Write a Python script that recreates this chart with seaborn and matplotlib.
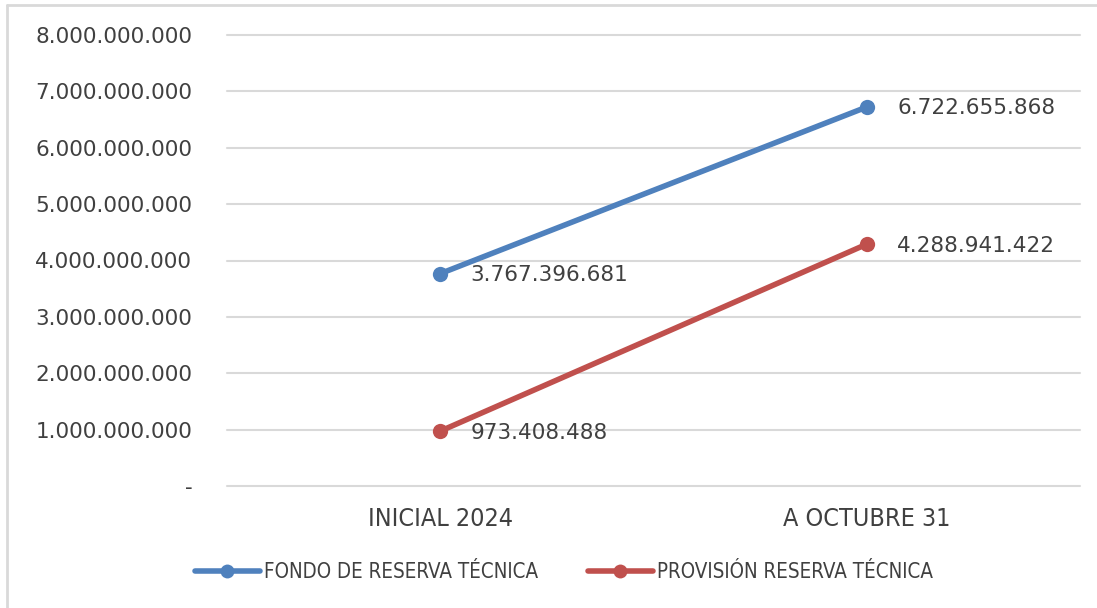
import matplotlib
matplotlib.use("Agg")
import matplotlib.pyplot as plt
import matplotlib.ticker as mticker
from matplotlib.lines import Line2D
from matplotlib import font_manager
import seaborn as sns
import pandas as pd

# -----------------------------------------
# Data
# -----------------------------------------
categorias = ["INICIAL 2024", "A OCTUBRE 31"]
fondo_reserva = [3767396681, 6722655868]
provision_reserva = [973408488, 4288941422]
series_nombres = ["FONDO DE RESERVA TÉCNICA", "PROVISIÓN RESERVA TÉCNICA"]
colores = ["#4F81BD", "#C0504D"]

data = pd.DataFrame({
    "Periodo": categorias * 2,
    "Valor": fondo_reserva + provision_reserva,
    "Serie": [series_nombres[0]] * 2 + [series_nombres[1]] * 2,
})

sns.set_style("white")
plt.rcParams["font.family"] = ["DejaVu Sans"]
texto = "#404040"

# narrow font for category / legend text, if available
nombres = {f.name for f in font_manager.fontManager.ttflist}
if "Liberation Sans Narrow" in nombres:
    narrow = {"family": "Liberation Sans Narrow"}
else:
    narrow = {"family": "DejaVu Sans", "stretch": "condensed"}


def miles(v, pos=None):
    if v == 0:
        return "-"
    return f"{v:,.0f}".replace(",", ".")


# -----------------------------------------
# Plot
# -----------------------------------------
fig = plt.figure(figsize=(10.97, 6.08), dpi=100)
ax = fig.add_axes([227 / 1097, 1 - 486 / 608, (1080 - 227) / 1097, (486 - 35) / 608])

sns.lineplot(data=data, x="Periodo", y="Valor", hue="Serie", palette=colores,
             marker="o", markersize=11, markeredgewidth=0, linewidth=4,
             sort=False, ax=ax, legend=False)

ax.set_xlim(-0.5, 1.5)
ax.set_ylim(0, 8e9)
ax.yaxis.set_major_locator(mticker.MultipleLocator(1e9))
ax.yaxis.set_major_formatter(mticker.FuncFormatter(miles))
ax.grid(axis="y", color="#D9D9D9", linewidth=1.5)
ax.grid(axis="x", visible=False)
ax.set_axisbelow(True)
for g in ax.get_ygridlines():
    g.set_clip_on(False)
for s in ax.spines.values():
    s.set_visible(False)
ax.tick_params(axis="y", length=0, pad=25, labelsize=15.5, labelcolor=texto)
ax.tick_params(axis="x", length=0, pad=15, labelsize=18, labelcolor=texto)
for lab in ax.get_xticklabels():
    lab.set_family(narrow["family"])
    if "stretch" in narrow:
        lab.set_stretch(narrow["stretch"])
ax.set_xlabel("")
ax.set_ylabel("")

# data labels
for serie in (fondo_reserva, provision_reserva):
    for i, v in enumerate(serie):
        ax.annotate(miles(v), (i, v), xytext=(22, -1), textcoords="offset points",
                    ha="left", va="center", fontsize=15.5, color=texto)

# legend
handles = [Line2D([0], [0], color=c, linewidth=4, marker="o", markersize=10,
                  markeredgewidth=0) for c in colores]
fig.legend(handles, series_nombres, loc="center", bbox_to_anchor=(0.514, 1 - 572 / 608),
           ncol=2, frameon=False, handlelength=3.15, handletextpad=0.2, columnspacing=2.45,
           prop=dict(narrow, size=14.8), labelcolor=texto)

# chart border (left and top visible)
fig.add_artist(Line2D([7 / 1097, 7 / 1097], [0, 1 - 5 / 608], transform=fig.transFigure,
                      color="#D9D9D9", linewidth=2))
fig.add_artist(Line2D([7 / 1097, 1], [1 - 5 / 608, 1 - 5 / 608], transform=fig.transFigure,
                      color="#D9D9D9", linewidth=2))

plt.savefig("out.png", dpi=100)
plt.close()
